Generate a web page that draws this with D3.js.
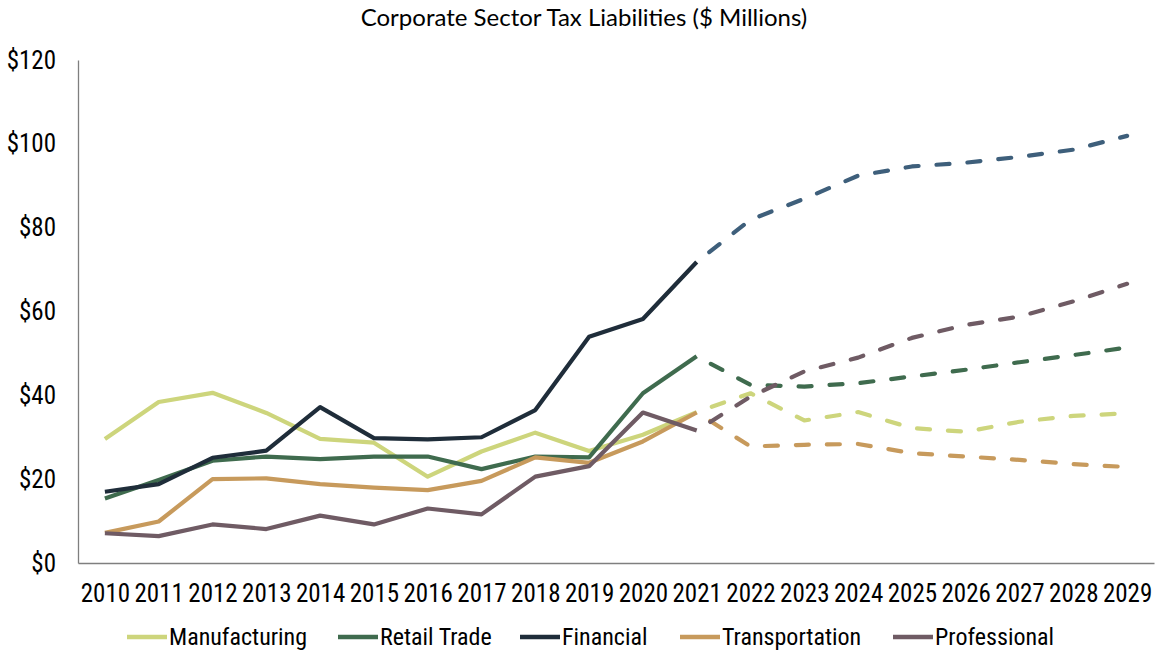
<!DOCTYPE html>
<html>
<head>
<meta charset="utf-8">
<script src="https://cdn.jsdelivr.net/npm/d3@7"></script>
<style>
  html, body { margin: 0; padding: 0; background: #fff; }
  svg { display: block; }
  .tick-label { font-family: "Liberation Sans Narrow", "Arial Narrow", "Roboto Condensed", sans-serif; font-size: 25px; fill: #000; }
  .legend-label { font-family: "Liberation Sans Narrow", "Arial Narrow", "Roboto Condensed", sans-serif; font-size: 24px; fill: #000; }
  .title { font-family: Lato, "Open Sans", sans-serif; font-size: 24px; fill: #000; }
</style>
</head>
<body>
<script>
const years = [2010,2011,2012,2013,2014,2015,2016,2017,2018,2019,2020,2021,2022,2023,2024,2025,2026,2027,2028,2029];
const manufacturing  = [29.6,38.4,40.6,35.8,29.6,28.7,20.6,26.6,31.1,26.7,30.6,36.0,40.5,34.0,36.0,32.2,31.3,33.7,35.1,35.7];
const retailTrade    = [15.4,19.8,24.4,25.4,24.8,25.4,25.4,22.4,25.4,25.2,40.5,49.3,42.5,42.1,42.9,44.5,46.1,47.9,49.6,51.4];
const financial      = [17.0,18.8,25.1,26.8,37.2,29.8,29.5,30.0,36.5,54.0,58.2,71.8,81.9,86.9,92.4,94.6,95.5,96.9,98.6,101.9];
const transportation = [7.2,9.9,20.0,20.2,18.8,18.0,17.4,19.6,25.2,23.9,29.0,35.9,27.8,28.2,28.4,26.2,25.4,24.6,23.6,22.9];
const professional   = [7.1,6.4,9.2,8.1,11.3,9.2,13.0,11.6,20.6,23.1,35.9,31.6,39.7,45.7,49.0,53.7,56.8,58.8,62.4,66.6];
const yTicks = [0,20,40,60,80,100,120];
const lastActualYear = 2021;

const seriesNames = ["Manufacturing","Retail Trade","Financial","Transportation","Professional"];
const seriesValues = [manufacturing, retailTrade, financial, transportation, professional];
const solidColors = ["#cdd57c","#3f6b4e","#1f2d3a","#c79a5c","#6f5b64"];
const dashColors  = ["#cdd57c","#3f6b4e","#3e5f7b","#c79a5c","#6f5b64"];

const W = 1156, H = 653;
const mLeft = 78, mRight = 1154, mTop = 60, mBottom = 563;

const svg = d3.select("body").append("svg").attr("width", W).attr("height", H);

const x = d3.scalePoint().domain(years).range([mLeft, mRight]).padding(0.5);
const y = d3.scaleLinear().domain([0,120]).range([mBottom, mTop]);

// title
svg.append("text").attr("class","title")
  .attr("x", 584).attr("y", 26).attr("text-anchor","middle")
  .text("Corporate Sector Tax Liabilities ($ Millions)");

// axes
const yAxis = svg.append("g").attr("transform", `translate(${mLeft},0)`)
  .call(d3.axisLeft(y).tickValues(yTicks).tickSize(0).tickPadding(22).tickFormat(d => "$" + d));
yAxis.select(".domain").attr("stroke","#7f7f7f").attr("stroke-width",1.3);
yAxis.selectAll("text").attr("class","tick-label").attr("fill","#000");

const xAxis = svg.append("g").attr("transform", `translate(0,${mBottom})`)
  .call(d3.axisBottom(x).tickSize(0).tickPadding(21).tickFormat(d => String(d)));
xAxis.select(".domain").attr("stroke","#7f7f7f").attr("stroke-width",1.3);
xAxis.selectAll("text").attr("class","tick-label").attr("fill","#000");
yAxis.attr("font-size", null).attr("font-family", null);
xAxis.attr("font-size", null).attr("font-family", null);

const line = d3.line().x(d => x(d.year)).y(d => y(d.v));

seriesValues.forEach((vals, i) => {
  const pts = years.map((yr, k) => ({year: yr, v: vals[k]}));
  const actual = pts.filter(p => p.year <= lastActualYear);
  const proj = pts.filter(p => p.year >= lastActualYear);
  svg.append("path").datum(proj).attr("d", line)
    .attr("fill","none").attr("stroke", dashColors[i]).attr("stroke-width", 4.2)
    .attr("stroke-dasharray","13,18").attr("stroke-dashoffset", -16).attr("stroke-linecap","round").attr("stroke-linejoin","round");
  svg.append("path").datum(actual).attr("d", line)
    .attr("fill","none").attr("stroke", solidColors[i]).attr("stroke-width", 4.2)
    .attr("stroke-linejoin","round");
});

// legend
const legendX = [127, 338, 520, 680, 893];
const legendY = 637;
const lg = svg.append("g");
seriesNames.forEach((name, i) => {
  const g = lg.append("g").attr("transform", `translate(${legendX[i]},${legendY})`);
  g.append("line").attr("x1",0).attr("x2",40).attr("y1",0).attr("y2",0)
    .attr("stroke", solidColors[i]).attr("stroke-width",4.5);
  g.append("text").attr("class","legend-label").attr("x",42).attr("y",0)
    .attr("dy","0.35em").text(name);
});
</script>
</body>
</html>
